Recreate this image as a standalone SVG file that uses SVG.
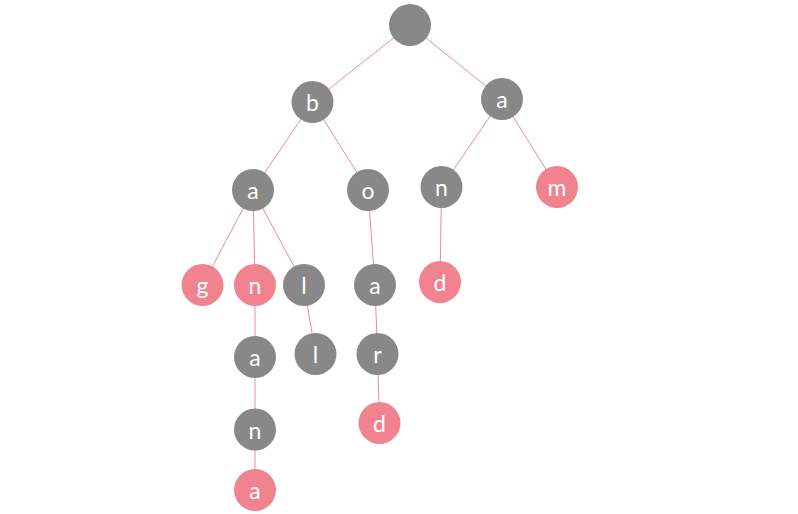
<svg xmlns="http://www.w3.org/2000/svg" width="798" height="514" viewBox="0 0 798 514">
<style>
.g circle{fill:#888888}
.p circle{fill:#F0838F}
text{fill:#ffffff;font-family:Lato,"Open Sans",sans-serif;font-size:23px;text-anchor:middle;dominant-baseline:central}
#edges line{stroke:#EE8A9A;stroke-width:1}
</style>
<rect width="798" height="514" fill="#ffffff"/>
<g id="edges">
<line x1="410" y1="25" x2="312.5" y2="102"/>
<line x1="410" y1="25" x2="502" y2="99"/>
<line x1="312.5" y1="102" x2="253" y2="190"/>
<line x1="312.5" y1="102" x2="368" y2="190"/>
<line x1="502" y1="99" x2="441.5" y2="187"/>
<line x1="502" y1="99" x2="557" y2="187"/>
<line x1="253" y1="190" x2="202.5" y2="285"/>
<line x1="253" y1="190" x2="255" y2="285"/>
<line x1="253" y1="190" x2="304" y2="285"/>
<line x1="368" y1="190" x2="375" y2="285"/>
<line x1="441.5" y1="187" x2="440" y2="282"/>
<line x1="255" y1="285" x2="255" y2="357"/>
<line x1="304" y1="285" x2="315.5" y2="354"/>
<line x1="375" y1="285" x2="377.5" y2="354"/>
<line x1="255" y1="357" x2="255" y2="429.5"/>
<line x1="377.5" y1="354" x2="379.5" y2="423"/>
<line x1="255" y1="429.5" x2="255" y2="490"/>
</g>
<g id="root" class="g"><circle cx="410" cy="25" r="21"/></g>
<g id="n-b" class="g"><circle cx="312.5" cy="102" r="21"/><text x="312.5" y="102">b</text></g>
<g id="n-a1" class="g"><circle cx="502" cy="99" r="21"/><text x="502" y="99">a</text></g>
<g id="n-a2" class="g"><circle cx="253" cy="190" r="21"/><text x="253" y="190">a</text></g>
<g id="n-o" class="g"><circle cx="368" cy="190" r="21"/><text x="368" y="190">o</text></g>
<g id="n-n1" class="g"><circle cx="441.5" cy="187" r="21"/><text x="441.5" y="187">n</text></g>
<g id="n-m" class="p"><circle cx="557" cy="187" r="21"/><text x="557" y="187">m</text></g>
<g id="n-g" class="p"><circle cx="202.5" cy="285" r="21"/><text x="202.5" y="285">g</text></g>
<g id="n-n2" class="p"><circle cx="255" cy="285" r="21"/><text x="255" y="285">n</text></g>
<g id="n-l1" class="g"><circle cx="304" cy="285" r="21"/><text x="304" y="285">l</text></g>
<g id="n-a3" class="g"><circle cx="375" cy="285" r="21"/><text x="375" y="285">a</text></g>
<g id="n-d1" class="p"><circle cx="440" cy="282" r="21"/><text x="440" y="282">d</text></g>
<g id="n-a4" class="g"><circle cx="255" cy="357" r="21"/><text x="255" y="357">a</text></g>
<g id="n-l2" class="g"><circle cx="315.5" cy="354" r="21"/><text x="315.5" y="354">l</text></g>
<g id="n-r" class="g"><circle cx="377.5" cy="354" r="21"/><text x="377.5" y="354">r</text></g>
<g id="n-n3" class="g"><circle cx="255" cy="429.5" r="21"/><text x="255" y="429.5">n</text></g>
<g id="n-d2" class="p"><circle cx="379.5" cy="423" r="21"/><text x="379.5" y="423">d</text></g>
<g id="n-a5" class="p"><circle cx="255" cy="490" r="21"/><text x="255" y="490">a</text></g>
</svg>
